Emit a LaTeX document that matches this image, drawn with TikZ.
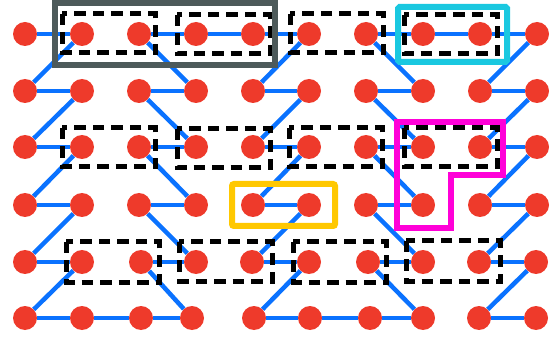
\documentclass[tikz,border=0pt]{standalone}
\usetikzlibrary{backgrounds}
\definecolor{nodered}{HTML}{EE3A2B}
\definecolor{edgeblue}{HTML}{0A72FF}
\definecolor{boxgray}{HTML}{4D5A5A}
\definecolor{boxcyan}{HTML}{1AC8E0}
\definecolor{boxmag}{HTML}{FF00D8}
\definecolor{boxyel}{HTML}{FFC800}
\begin{document}
\begin{tikzpicture}[x=1pt,y=-1pt,
  site/.style={circle,fill=nodered,inner sep=0pt,minimum size=24pt},
  bond/.style={draw=edgeblue,line width=4.5pt},
  dbox/.style={draw=black,line width=5pt,dash pattern=on 11.5pt off 7pt},
  hbox/.style={line width=6pt}]
\useasboundingbox (0,0) rectangle (557,339);
% nodes
\foreach \r/\y in {1/34,2/91,3/147,4/205}{
  \foreach \c/\x in {1/25,2/82,3/139,4/196,5/253,6/309,7/366,8/423,9/480,10/537}{
    \node[site] (n\r-\c) at (\x,\y) {};
  }
}
\foreach \c/\x in {1/25,2/82,3/141,4/196,5/252,6/309,7/368,8/423,9/479,10/536}{
  \node[site] (n5-\c) at (\x,262) {};
}
\foreach \c/\x in {1/25,2/82,3/141,4/192,5/254,6/310,7/370,8/423,9/479,10/536}{
  \node[site] (n6-\c) at (\x,318) {};
}
\begin{pgfonlayer}{background}
% horizontal bonds
\foreach \a/\b in {1-1/1-2,1-3/1-4,1-4/1-5,1-5/1-6,1-7/1-8,1-8/1-9,1-9/1-10,
  6-1/6-2,6-2/6-3,6-3/6-4,6-5/6-6,6-6/6-7,6-7/6-8,6-9/6-10}{
  \draw[bond] (n\a) -- (n\b);
}
\foreach \r in {2,3,4,5}{
  \foreach \a/\b in {1/2,3/4,5/6,7/8,9/10}{
    \draw[bond] (n\r-\a) -- (n\r-\b);
  }
}
% diagonal bonds
\foreach \r/\s in {1/2,2/3,3/4,4/5,5/6}{
  \draw[bond] (n\s-1) -- (n\r-2);
  \draw[bond] (n\r-3) -- (n\s-4);
  \draw[bond] (n\s-5) -- (n\r-6);
  \draw[bond] (n\r-7) -- (n\s-8);
  \draw[bond] (n\s-9) -- (n\r-10);
}
\end{pgfonlayer}
% dashed boxes
\draw[dbox] (62,14) rectangle (155,53);
\draw[dbox] (177,15) rectangle (270,54);
\draw[dbox] (290,14) rectangle (383,53);
\draw[dbox] (404,15) rectangle (497,54);
\draw[dbox] (62,128) rectangle (155,167);
\draw[dbox] (177,129) rectangle (270,168);
\draw[dbox] (289,128) rectangle (382,167);
\draw[dbox] (404,128) rectangle (497,167);
\draw[dbox] (66,242) rectangle (159,282);
\draw[dbox] (179,242) rectangle (272,281);
\draw[dbox] (293,242) rectangle (386,282);
\draw[dbox] (406,241) rectangle (500,281);
% highlight frames
\draw[hbox,draw=boxgray] (55,3) rectangle (275,65);
\draw[hbox,draw=boxcyan,rounded corners=1.5pt] (398,7) rectangle (507,62);
\draw[hbox,draw=boxmag] (397,122) -- (503,122) -- (503,175) -- (451,175) -- (451,228) -- (397,228) -- cycle;
\draw[hbox,draw=boxyel,rounded corners=2pt] (232,184) rectangle (335,226);
\end{tikzpicture}
\end{document}
